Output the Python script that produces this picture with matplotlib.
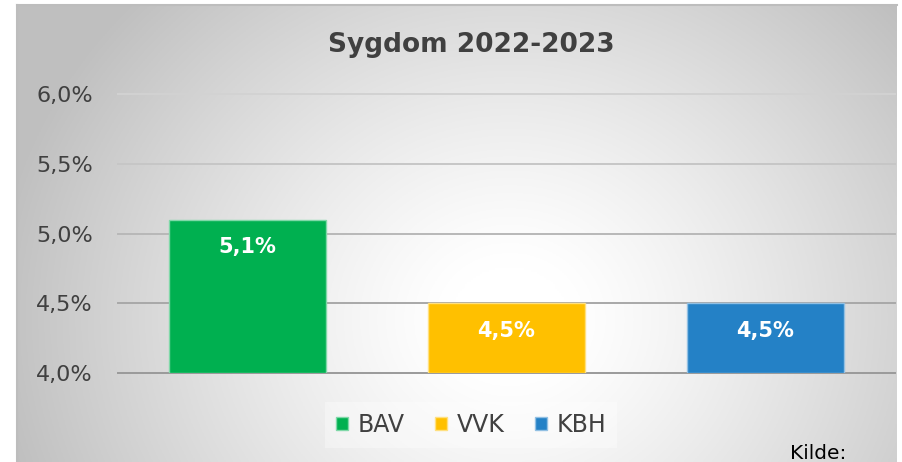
import numpy as np
import matplotlib
matplotlib.use("Agg")
import matplotlib.pyplot as plt
from matplotlib.patches import Rectangle
from matplotlib.ticker import FuncFormatter, MultipleLocator

# ---- data ----
title = "Sygdom 2022-2023"
categories = ["BAV", "VVK", "KBH"]
values = [5.1, 4.5, 4.5]
colors = ["#00B050", "#FFC000", "#2481C6"]
edge_colors = ["#80D8A8", "#FFE080", "#92C0E3"]
y_min, y_max, y_step = 4.0, 6.0, 0.5
source_text = "Kilde:"

FONT = ["DejaVu Sans"]
plt.rcParams["font.family"] = FONT

W, H = 902, 462
fig = plt.figure(figsize=(W / 100, H / 100), dpi=100)
fig.patch.set_facecolor("white")

# ---- radial gradient background ----
bx0, by0, bx1, by1 = 17, 5, 897, 462
bg = fig.add_axes([bx0 / W, 1 - by1 / H, (bx1 - bx0) / W, (by1 - by0) / H], zorder=0)
xs = np.linspace(bx0, bx1, 400)
ys = np.linspace(by0, by1, 220)
X, Y = np.meshgrid(xs, ys)
cx, cy = 510, 320
r = np.sqrt(((X - cx) / 1.0) ** 2 + ((Y - cy) / 0.9) ** 2)
t = np.clip((r - 60) / 460, 0, 1)
g = 1.0 - 0.25 * t ** 1.2
img = np.dstack([g, g, g])
bg.imshow(img, aspect="auto", extent=[0, 1, 0, 1], origin="upper")
bg.set_xlim(0, 1)
bg.set_ylim(0, 1)
bg.axis("off")
# border lines (top & left)
fig.add_artist(plt.Line2D([bx0 / W, bx1 / W], [1 - by0 / H, 1 - by0 / H],
                          color="#bdbdbd", lw=1.5, transform=fig.transFigure, zorder=1))
fig.add_artist(plt.Line2D([bx0 / W, bx0 / W], [0, 1 - by0 / H],
                          color="#bdbdbd", lw=1.5, transform=fig.transFigure, zorder=1))

# ---- main axes ----
ax_l, ax_r, ax_t, ax_b = 118, 895, 94, 373
ax = fig.add_axes([ax_l / W, 1 - ax_b / H, (ax_r - ax_l) / W, (ax_b - ax_t) / H], zorder=2)
ax.patch.set_alpha(0)
x = np.arange(len(categories))
ax.set_xlim(-0.5, len(categories) - 0.5)
ax.set_ylim(y_min, y_max)

ticks = np.arange(y_min, y_max + 1e-9, y_step)
grid_cols = ["#9a9a9a", "#a8a8a8", "#b8b8b8", "#c6c6c6", "#d2d2d2"]
for tk, gc in zip(ticks, grid_cols):
    ax.axhline(tk, color=gc, lw=1.4, zorder=1, clip_on=False)

bars = ax.bar(x, [v - y_min for v in values], bottom=y_min, width=0.606,
              color=colors, edgecolor=edge_colors, linewidth=1.0, zorder=3)
for xi, v in zip(x, values):
    ax.annotate(f"{v:.1f}%".replace(".", ","), (xi, v), xytext=(0, -20),
                textcoords="offset points", ha="center", va="center",
                color="white", fontsize=15, fontweight="bold", zorder=4)

ax.yaxis.set_major_locator(MultipleLocator(y_step))
ax.yaxis.set_major_formatter(FuncFormatter(lambda v, p: f"{v:.1f}%".replace(".", ",")))
ax.tick_params(axis="y", length=0, pad=18, labelsize=16, labelcolor="#404040")
ax.tick_params(axis="x", length=0, labelbottom=False)
for s in ax.spines.values():
    s.set_visible(False)

# title
fig.text(471 / W, 1 - 45 / H, title, ha="center", va="center", fontsize=19,
         fontweight="bold", color="#404040")

# legend
handles = [Rectangle((0, 0), 1, 1, facecolor=c, edgecolor=e, lw=1) for c, e in zip(colors, edge_colors)]
leg = fig.legend(handles, categories, loc="center", bbox_to_anchor=(471 / W, 1 - 425 / H),
                 ncol=3, frameon=True, fontsize=17, handlelength=0.5, handleheight=0.5,
                 handletextpad=0.4, columnspacing=1.3, borderpad=0.45, fancybox=False)
leg.get_frame().set_facecolor("#ffffff")
leg.get_frame().set_alpha(0.35)
leg.get_frame().set_edgecolor("none")
for txt in leg.get_texts():
    txt.set_color("#404040")

# source
fig.text(790 / W, 1 - 459 / H, source_text, ha="left", va="baseline", fontsize=14.5,
         color="black")

fig.savefig("out.png", dpi=100)
